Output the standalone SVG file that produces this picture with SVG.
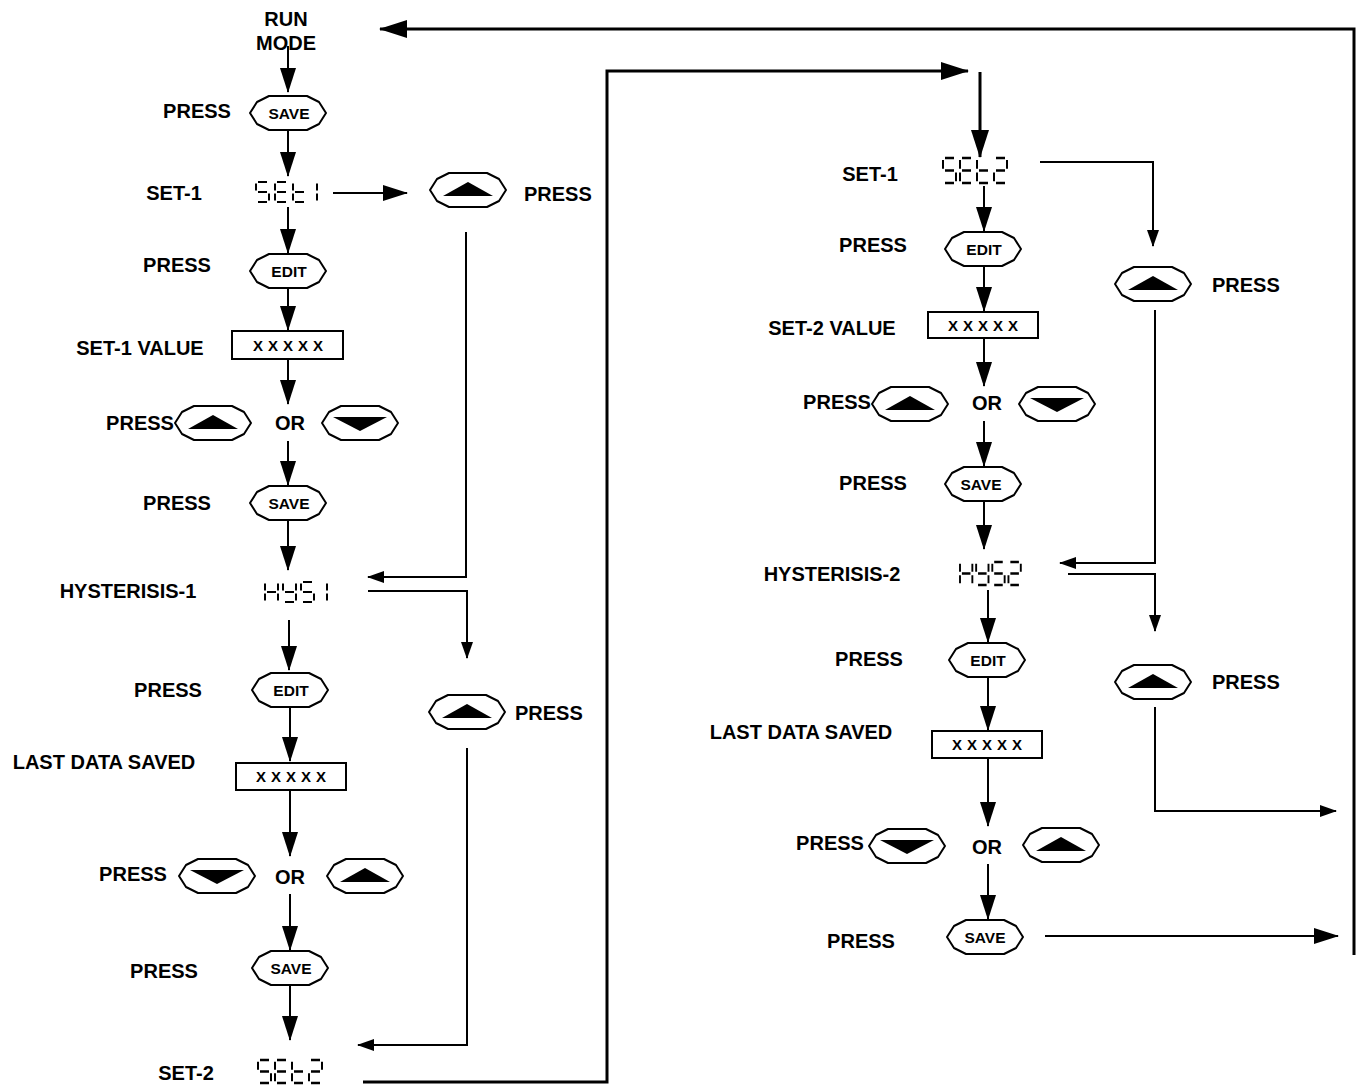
<svg xmlns="http://www.w3.org/2000/svg" xmlns:xlink="http://www.w3.org/1999/xlink" width="1361" height="1086" viewBox="0 0 1361 1086">
<style>
.t{font-family:"Liberation Sans",Arial,sans-serif;font-weight:bold;font-size:20px;fill:#000;text-anchor:middle}
.tl{text-anchor:start}
.bt{font-size:15.5px}
.xx{font-size:15px;letter-spacing:5px}
.btn{fill:#fff;stroke:#000;stroke-width:2;stroke-linejoin:round}
.box{fill:#fff;stroke:#000;stroke-width:2}
.c{fill:none;stroke:#000;stroke-width:2}
.ct{fill:none;stroke:#000;stroke-width:3}
.seg{fill:none;stroke:#000;stroke-width:2;stroke-linecap:butt}
</style>
<defs>
<marker id="ah" markerUnits="userSpaceOnUse" viewBox="0 0 25 16" markerWidth="25" markerHeight="16" refX="24" refY="8" orient="auto"><path d="M0,0L25,8L0,16z" fill="#000"/></marker>
<marker id="ahs" markerUnits="userSpaceOnUse" viewBox="0 0 17 12" markerWidth="17" markerHeight="12" refX="16" refY="6" orient="auto"><path d="M0,0L17,6L0,12z" fill="#000"/></marker>
<marker id="ahl" markerUnits="userSpaceOnUse" viewBox="0 0 28 18" markerWidth="28" markerHeight="18" refX="27" refY="9" orient="auto"><path d="M0,0L28,9L0,18z" fill="#000"/></marker>
<path id="oct" class="btn" d="M-38,0L-31,-11L-19,-17L19,-17L31,-11L38,0L31,11L19,17L-19,17L-31,11Z"/>
<g id="up"><use xlink:href="#oct"/><path d="M-25,6L25,6L0,-8Z" fill="#000"/></g>
<g id="dn"><use xlink:href="#oct"/><path d="M-27,-6L27,-6L0,8Z" fill="#000"/></g>
<path id="sS" class="seg" d="M2,0H11M0,1.5V8.5M2,10H11M13,11.5V18.5M2,20H11"/>
<path id="sE" class="seg" d="M2,0H11M0,1.5V8.5M2,10H11M0,11.5V18.5M2,20H11"/>
<path id="st" class="seg" d="M0,1.5V8.5M0,11.5V18.5M2,10H11M2,20H11"/>
<path id="s2" class="seg" d="M2,0H11M13,1.5V8.5M2,10H11M0,11.5V18.5M2,20H11"/>
<path id="s1" class="seg" d="M13,1.5V8.5M13,11.5V18.5"/>
<path id="sH" class="seg" d="M0,1.5V8.5M13,1.5V8.5M0,11.5V18.5M13,11.5V18.5M2,10H11"/>
<path id="sY" class="seg" d="M0,1.5V8.5M13,1.5V8.5M2,10H11M13,11.5V18.5M2,20H11"/>
</defs>

<rect width="1361" height="1086" fill="#fff"/>

<g id="connectors">
<line class="c" x1="288" y1="46" x2="288" y2="92" marker-end="url(#ah)"/>
<line class="c" x1="288" y1="131" x2="288" y2="176" marker-end="url(#ah)"/>
<line class="c" x1="288" y1="207" x2="288" y2="253" marker-end="url(#ah)"/>
<line class="c" x1="288" y1="288" x2="288" y2="330" marker-end="url(#ah)"/>
<line class="c" x1="288" y1="360" x2="288" y2="404" marker-end="url(#ah)"/>
<line class="c" x1="288" y1="441" x2="288" y2="485" marker-end="url(#ah)"/>
<line class="c" x1="288" y1="520" x2="288" y2="570" marker-end="url(#ah)"/>
<line class="c" x1="289" y1="620" x2="289" y2="670" marker-end="url(#ah)"/>
<line class="c" x1="290" y1="708" x2="290" y2="761" marker-end="url(#ah)"/>
<line class="c" x1="290" y1="791" x2="290" y2="856" marker-end="url(#ah)"/>
<line class="c" x1="290" y1="894" x2="290" y2="950" marker-end="url(#ah)"/>
<line class="c" x1="290" y1="986" x2="290" y2="1040" marker-end="url(#ah)"/>

<line class="ct" x1="980" y1="72" x2="980" y2="157" marker-end="url(#ahl)"/>
<line class="c" x1="984" y1="186" x2="984" y2="231" marker-end="url(#ah)"/>
<line class="c" x1="984" y1="266" x2="984" y2="311" marker-end="url(#ah)"/>
<line class="c" x1="984" y1="339" x2="984" y2="386" marker-end="url(#ah)"/>
<line class="c" x1="984" y1="421" x2="984" y2="466" marker-end="url(#ah)"/>
<line class="c" x1="984" y1="501" x2="984" y2="549" marker-end="url(#ah)"/>
<line class="c" x1="988" y1="590" x2="988" y2="642" marker-end="url(#ah)"/>
<line class="c" x1="988" y1="678" x2="988" y2="730" marker-end="url(#ah)"/>
<line class="c" x1="988" y1="758" x2="988" y2="826" marker-end="url(#ah)"/>
<line class="c" x1="988" y1="864" x2="988" y2="919" marker-end="url(#ah)"/>

<line class="c" x1="333" y1="193" x2="407" y2="193" marker-end="url(#ah)"/>
<polyline class="c" points="466,232 466,577 368,577" marker-end="url(#ahs)"/>
<polyline class="c" points="368,591 467,591 467,658" marker-end="url(#ahs)"/>
<polyline class="c" points="467,748 467,1045 358,1045" marker-end="url(#ahs)"/>
<polyline class="ct" points="363,1082 607,1082 607,71 968,71" marker-end="url(#ahl)"/>
<polyline class="c" points="1040,162 1153,162 1153,246" marker-end="url(#ahs)"/>
<polyline class="c" points="1155,310 1155,563 1060,563" marker-end="url(#ahs)"/>
<polyline class="c" points="1068,574 1155,574 1155,631" marker-end="url(#ahs)"/>
<polyline class="c" points="1155,707 1155,811 1336,811" marker-end="url(#ahs)"/>
<line class="c" x1="1045" y1="936" x2="1338" y2="936" stroke-width="2.5" marker-end="url(#ah)"/>
<polyline class="ct" points="1354,955 1354,29 380,29" marker-end="url(#ahl)"/>
</g>

<g id="run-mode"><text class="t" x="286" y="26">RUN</text><text class="t" x="286" y="50">MODE</text></g>

<g id="l-press-save1"><text class="t" x="197" y="118">PRESS</text><use xlink:href="#oct" x="288" y="113"/><text class="t bt" x="289" y="118.5">SAVE</text></g>
<g id="l-set1"><text class="t" x="174" y="200">SET-1</text>
<g id="disp-set1"><title>SEt 1</title><use xlink:href="#sS" x="256" y="182"/><use xlink:href="#sE" x="275" y="182"/><use xlink:href="#st" x="293" y="182"/><use xlink:href="#s1" x="304" y="182"/></g></g>
<g id="l-up-a"><use xlink:href="#up" x="468" y="190"/><text class="t tl" x="524" y="201">PRESS</text></g>
<g id="l-press-edit1"><text class="t" x="177" y="272">PRESS</text><use xlink:href="#oct" x="288" y="271"/><text class="t bt" x="289" y="276.5">EDIT</text></g>
<g id="l-set1-value"><text class="t" x="140" y="355">SET-1 VALUE</text><rect class="box" x="232" y="331" width="111" height="28"/><text class="t xx" x="290.5" y="350.5">XXXXX</text></g>
<g id="l-press-updown1"><text class="t" x="140" y="430">PRESS</text><use xlink:href="#up" x="213" y="423"/><text class="t" x="290" y="430">OR</text><use xlink:href="#dn" x="360" y="423"/></g>
<g id="l-press-save2"><text class="t" x="177" y="510">PRESS</text><use xlink:href="#oct" x="288" y="503"/><text class="t bt" x="289" y="508.5">SAVE</text></g>
<g id="l-hys1"><text class="t" x="128" y="598">HYSTERISIS-1</text>
<g id="disp-hys1"><title>HYS 1</title><use xlink:href="#sH" x="265" y="582"/><use xlink:href="#sY" x="283" y="582"/><use xlink:href="#sS" x="301" y="582"/><use xlink:href="#s1" x="314" y="582"/></g></g>
<g id="l-press-edit2"><text class="t" x="168" y="697">PRESS</text><use xlink:href="#oct" x="290" y="690"/><text class="t bt" x="291" y="695.5">EDIT</text></g>
<g id="l-up-b"><use xlink:href="#up" x="467" y="712"/><text class="t tl" x="515" y="720">PRESS</text></g>
<g id="l-last-data"><text class="t" x="104" y="769">LAST DATA SAVED</text><rect class="box" x="236" y="763" width="110" height="27"/><text class="t xx" x="293.5" y="782">XXXXX</text></g>
<g id="l-press-updown2"><text class="t" x="133" y="881">PRESS</text><use xlink:href="#dn" x="217" y="876"/><text class="t" x="290" y="884">OR</text><use xlink:href="#up" x="365" y="876"/></g>
<g id="l-press-save3"><text class="t" x="164" y="978">PRESS</text><use xlink:href="#oct" x="290" y="968"/><text class="t bt" x="291" y="973.5">SAVE</text></g>
<g id="l-set2"><text class="t" x="186" y="1080">SET-2</text>
<g id="disp-set2a"><title>SEt2</title><g transform="translate(258,1060) scale(1,1.15)"><use xlink:href="#sS"/><use xlink:href="#sE" x="17"/><use xlink:href="#st" x="34"/><use xlink:href="#s2" x="51"/></g></g></g>

<g id="r-set1"><text class="t" x="870" y="181">SET-1</text>
<g id="disp-set2b"><title>SEt2</title><g transform="translate(943,158) scale(1,1.25)"><use xlink:href="#sS"/><use xlink:href="#sE" x="17"/><use xlink:href="#st" x="34"/><use xlink:href="#s2" x="51"/></g></g></g>
<g id="r-press-edit1"><text class="t" x="873" y="252">PRESS</text><use xlink:href="#oct" x="983" y="249"/><text class="t bt" x="984" y="254.5">EDIT</text></g>
<g id="r-up-a"><use xlink:href="#up" x="1153" y="284"/><text class="t tl" x="1212" y="292">PRESS</text></g>
<g id="r-set2-value"><text class="t" x="832" y="335">SET-2 VALUE</text><rect class="box" x="928" y="312" width="110" height="26"/><text class="t xx" x="985.5" y="330.5">XXXXX</text></g>
<g id="r-press-updown1"><text class="t" x="837" y="409">PRESS</text><use xlink:href="#up" x="910" y="404"/><text class="t" x="987" y="410">OR</text><use xlink:href="#dn" x="1057" y="404"/></g>
<g id="r-press-save1"><text class="t" x="873" y="490">PRESS</text><use xlink:href="#oct" x="983" y="484"/><text class="t bt" x="981" y="489.5">SAVE</text></g>
<g id="r-hys2"><text class="t" x="832" y="581">HYSTERISIS-2</text>
<g id="disp-hys2"><title>HYS2</title><g transform="translate(960,562) scale(0.95,1.15)"><use xlink:href="#sH"/><use xlink:href="#sY" x="17"/><use xlink:href="#sS" x="34"/><use xlink:href="#s2" x="51"/></g></g></g>
<g id="r-press-edit2"><text class="t" x="869" y="666">PRESS</text><use xlink:href="#oct" x="987" y="660"/><text class="t bt" x="988" y="665.5">EDIT</text></g>
<g id="r-up-b"><use xlink:href="#up" x="1153" y="682"/><text class="t tl" x="1212" y="689">PRESS</text></g>
<g id="r-last-data"><text class="t" x="801" y="739">LAST DATA SAVED</text><rect class="box" x="932" y="731" width="110" height="27"/><text class="t xx" x="989.5" y="750">XXXXX</text></g>
<g id="r-press-updown2"><text class="t" x="830" y="850">PRESS</text><use xlink:href="#dn" x="907" y="846"/><text class="t" x="987" y="854">OR</text><use xlink:href="#up" x="1061" y="845"/></g>
<g id="r-press-save2"><text class="t" x="861" y="948">PRESS</text><use xlink:href="#oct" x="985" y="937"/><text class="t bt" x="985" y="942.5">SAVE</text></g>
</svg>
